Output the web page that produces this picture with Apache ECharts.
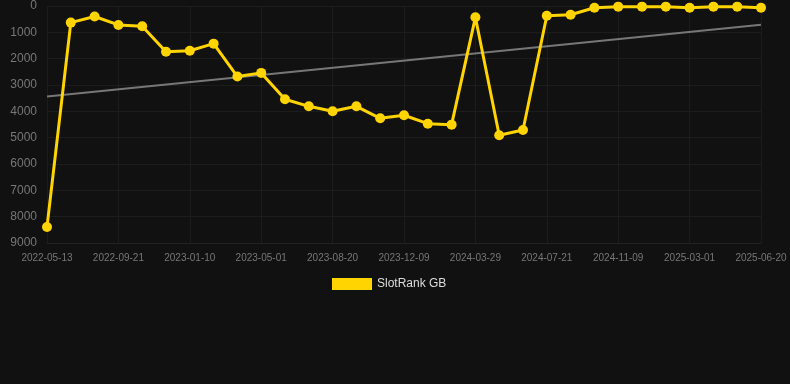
<!DOCTYPE html>
<html>
<head>
<meta charset="utf-8">
<script src="https://cdn.jsdelivr.net/npm/echarts@6/dist/echarts.min.js"></script>
<style>
html,body{margin:0;padding:0;background:#111111;}
#chart{width:790px;height:384px;}
</style>
</head>
<body>
<div id="chart"></div>
<script>
const dates = ['2022-05-13','2022-06-26','2022-08-09','2022-09-21','2022-10-28','2022-12-04','2023-01-10','2023-02-16','2023-03-25','2023-05-01','2023-06-07','2023-07-14','2023-08-20','2023-09-26','2023-11-02','2023-12-09','2024-01-15','2024-02-21','2024-03-29','2024-05-06','2024-06-13','2024-07-21','2024-08-27','2024-10-03','2024-11-09','2024-12-16','2025-01-23','2025-03-01','2025-04-07','2025-05-14','2025-06-20'];
const rankGB = [8390,630,400,720,770,1735,1700,1430,2680,2540,3540,3810,4000,3810,4265,4150,4470,4505,430,4910,4710,370,330,65,25,25,25,65,25,25,65];
const trendStart = 3440;
const trendEnd = 710;
const yTicks = {min:0, max:9000, interval:1000};

const chart = echarts.init(document.getElementById('chart'));
chart.setOption({
  backgroundColor:'#111111',
  animation:false,
  grid:{left:47, right:29, top:6, bottom:141},
  legend:{
    data:[{name:'SlotRank GB', icon:'rect'}],
    top:273,
    left:327,
    itemWidth:40, itemHeight:12,
    textStyle:{color:'#dddddd', fontSize:12, fontFamily:'Arial, Liberation Sans, sans-serif'}
  },
  xAxis:{
    type:'category',
    data:dates,
    boundaryGap:false,
    position:'bottom',
    axisLine:{onZero:false, lineStyle:{color:'#222222'}},
    axisTick:{show:false},
    axisLabel:{interval:2, color:'#777777', fontSize:10, margin:10, fontFamily:'Arial, Liberation Sans, sans-serif'},
    splitLine:{show:true, interval:2, lineStyle:{color:'#1c1c1c'}}
  },
  yAxis:{
    type:'value',
    inverse:true,
    min:yTicks.min, max:yTicks.max, interval:yTicks.interval,
    axisLine:{show:false},
    axisTick:{show:false},
    axisLabel:{color:'#777777', fontSize:12, margin:10, fontFamily:'Arial, Liberation Sans, sans-serif', formatter:function(v){return String(v);}},
    splitLine:{lineStyle:{color:'#1c1c1c'}}
  },
  series:[
    {
      name:'SlotRank GB',
      type:'line',
      data:rankGB,
      color:'#FFD400',
      lineStyle:{width:3, color:'#FFD400'},
      itemStyle:{color:'#FFD400'},
      symbol:'circle',
      symbolSize:10,
      z:3
    },
    {
      name:'Trend',
      type:'line',
      data:[[0,trendStart],[dates.length-1,trendEnd]],
      symbol:'none',
      lineStyle:{width:2, color:'#777777'},
      z:2
    }
  ]
});
</script>
</body>
</html>
